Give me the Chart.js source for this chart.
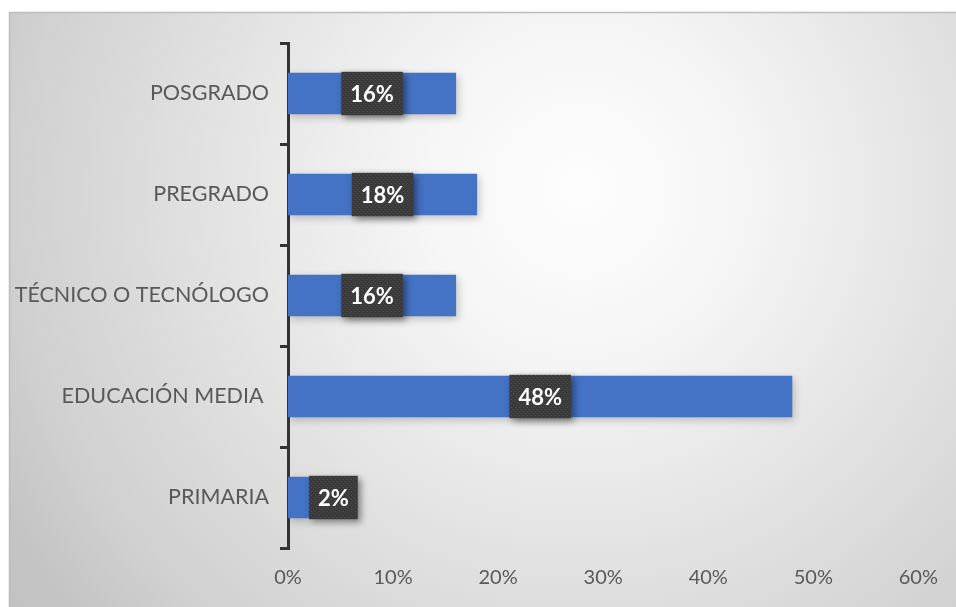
<!DOCTYPE html>
<html>
<head>
<meta charset="utf-8">
<script src="https://cdn.jsdelivr.net/npm/chart.js@4/dist/chart.umd.min.js"></script>
<style>
  html, body { margin: 0; padding: 0; background: #fff; }
  #wrap { width: 956px; height: 607px; }
</style>
</head>
<body>
<div id="wrap"><canvas id="nivelChart" width="956" height="607"></canvas></div>
<script>
// nivel educativo, de arriba hacia abajo
const niveles = ["POSGRADO", "PREGRADO", "TÉCNICO O TECNÓLOGO", "EDUCACIÓN MEDIA ", "PRIMARIA"];
const porcentajes = [16, 18, 16, 48, 2];
const ejeX = [0, 10, 20, 30, 40, 50, 60];

Chart.defaults.font.family = "Lato, 'Open Sans', sans-serif";
Chart.defaults.color = "#595959";

// textura punteada de las etiquetas
const makeDots = () => {
  const c = document.createElement("canvas");
  c.width = 4;
  c.height = 4;
  const g = c.getContext("2d");
  g.fillStyle = "#3a3a3a";
  g.fillRect(0, 0, 4, 4);
  g.fillStyle = "#4f4f4f";
  g.fillRect(1, 1, 1, 1);
  g.fillRect(3, 3, 1, 1);
  return c;
};

const fondo = {
  id: "fondo",
  beforeDraw(chart) {
    const { ctx, width, height } = chart;
    ctx.save();
    ctx.fillStyle = "#fff";
    ctx.fillRect(0, 0, width, height);
    const grad = ctx.createRadialGradient(580, 190, 0, 580, 190, 700);
    grad.addColorStop(0, "#fdfdfd");
    grad.addColorStop(0.22, "#f6f6f6");
    grad.addColorStop(0.67, "#d9d9d9");
    grad.addColorStop(0.8, "#d1d1d1");
    grad.addColorStop(0.93, "#c5c5c5");
    grad.addColorStop(1, "#c2c2c2");
    ctx.fillStyle = grad;
    ctx.fillRect(9, 12, width - 9, height - 12);
    ctx.strokeStyle = "#bdbdbd";
    ctx.lineWidth = 1.5;
    ctx.beginPath();
    ctx.moveTo(9.5, height);
    ctx.lineTo(9.5, 12.5);
    ctx.lineTo(width, 12.5);
    ctx.stroke();
    ctx.restore();
  },
};

const sombraBarras = {
  id: "sombraBarras",
  beforeDatasetsDraw(chart) {
    const ctx = chart.ctx;
    ctx.save();
    ctx.shadowColor = "rgba(0,0,0,0.22)";
    ctx.shadowBlur = 8;
    ctx.shadowOffsetX = 2;
    ctx.shadowOffsetY = 3;
  },
  afterDatasetsDraw(chart) {
    chart.ctx.restore();
  },
};

const etiquetas = {
  id: "etiquetas",
  afterDatasetsDraw(chart) {
    const ctx = chart.ctx;
    const meta = chart.getDatasetMeta(0);
    const pattern = ctx.createPattern(makeDots(), "repeat");
    ctx.save();
    ctx.font = "bold 22px Lato, 'Open Sans', sans-serif";
    ctx.textAlign = "center";
    ctx.textBaseline = "middle";
    meta.data.forEach((bar, i) => {
      const txt = porcentajes[i] + "%";
      const tw = ctx.measureText(txt).width;
      const w = tw + 18;
      const h = bar.height + 2;
      let left = (bar.base + bar.x) / 2 - w / 2;
      if (left < bar.base) left = bar.x;
      const top = bar.y - h / 2;
      ctx.save();
      ctx.shadowColor = "rgba(0,0,0,0.45)";
      ctx.shadowBlur = 7;
      ctx.shadowOffsetX = 3;
      ctx.shadowOffsetY = 3;
      ctx.fillStyle = pattern;
      ctx.fillRect(left, top, w, h);
      ctx.restore();
      ctx.fillStyle = "#ffffff";
      ctx.fillText(txt, left + w / 2, bar.y + 1);
    });
    ctx.restore();
  },
};

new Chart(document.getElementById("nivelChart"), {
  type: "bar",
  data: {
    labels: niveles,
    datasets: [
      {
        data: porcentajes,
        backgroundColor: "#4472C4",
        borderWidth: 0,
        categoryPercentage: 1,
        barPercentage: 0.41,
      },
    ],
  },
  options: {
    indexAxis: "y",
    responsive: false,
    animation: false,
    layout: { padding: { left: 0, right: 35, top: 43, bottom: 0 } },
    plugins: {
      legend: { display: false },
      tooltip: { enabled: false },
    },
    scales: {
      x: {
        min: ejeX[0],
        max: ejeX[ejeX.length - 1],
        afterFit: (scale) => {
          scale.height = 59;
        },
        afterBuildTicks: (scale) => {
          scale.ticks = ejeX.map((v) => ({ value: v }));
        },
        ticks: {
          padding: 18,
          font: { size: 20 },
          color: "#595959",
          callback: (v) => v + "%",
        },
        grid: { display: false, drawTicks: false },
        border: { display: false },
      },
      y: {
        afterFit: (scale) => {
          scale.width = 288;
        },
        ticks: {
          padding: 11,
          font: { size: 21.5 },
          color: "#595959",
        },
        grid: {
          drawOnChartArea: false,
          drawTicks: true,
          tickLength: 8,
          color: "#333333",
          lineWidth: 3,
        },
        border: { display: true, color: "#333333", width: 3 },
      },
    },
  },
  plugins: [fondo, sombraBarras, etiquetas],
});
</script>
</body>
</html>
